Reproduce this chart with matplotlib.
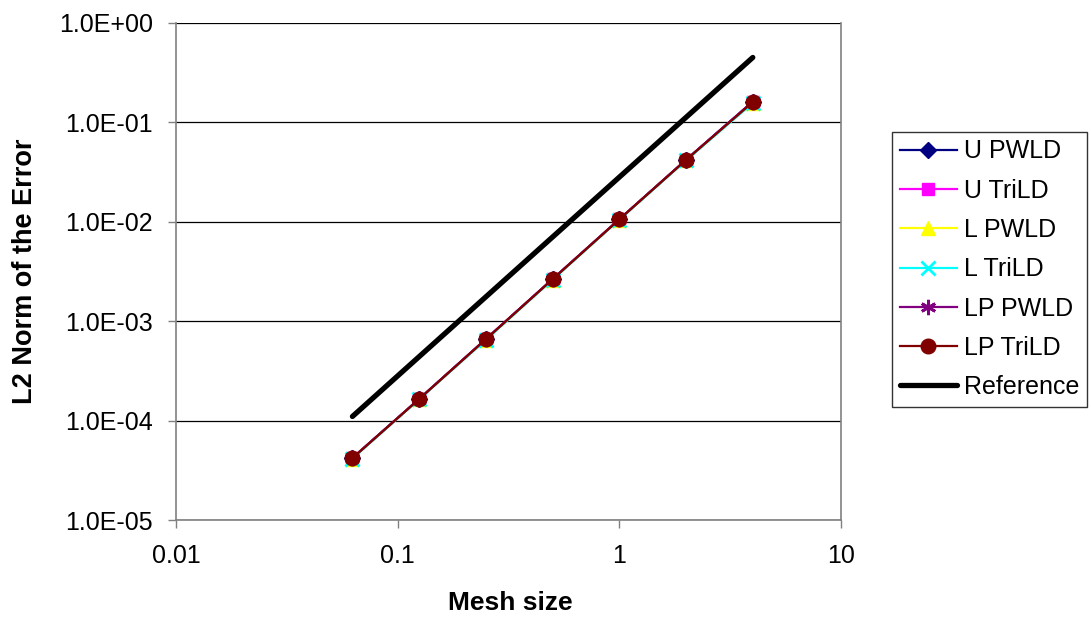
import matplotlib
matplotlib.use("Agg")
import matplotlib.pyplot as plt
from matplotlib.ticker import FixedLocator, NullLocator, FixedFormatter

plt.rcParams['font.family'] = ['Liberation Sans', 'DejaVu Sans']

mesh = [0.0625, 0.125, 0.25, 0.5, 1, 2, 4]
u_pwld = [4.2e-5, 1.65e-4, 6.6e-4, 2.65e-3, 1.06e-2, 4.2e-2, 0.162]
u_trild = [4.2e-5, 1.65e-4, 6.6e-4, 2.65e-3, 1.06e-2, 4.2e-2, 0.161]
l_pwld = [4.15e-5, 1.64e-4, 6.5e-4, 2.62e-3, 1.05e-2, 4.15e-2, 0.158]
l_trild = [4.15e-5, 1.64e-4, 6.5e-4, 2.62e-3, 1.05e-2, 4.15e-2, 0.157]
lp_pwld = [4.2e-5, 1.65e-4, 6.6e-4, 2.65e-3, 1.06e-2, 4.2e-2, 0.162]
lp_trild = [4.2e-5, 1.65e-4, 6.6e-4, 2.65e-3, 1.06e-2, 4.2e-2, 0.16]
ref_x = [0.0625, 4]
ref_y = [1.1e-4, 0.45]

series = [
    ("U PWLD", u_pwld, "#000080", "D", 8),
    ("U TriLD", u_trild, "#FF00FF", "s", 9),
    ("L PWLD", l_pwld, "#FFFF00", "^", 10),
    ("L TriLD", l_trild, "#00FFFF", "x", 10),
    ("LP PWLD", lp_pwld, "#800080", (6, 2, 0), 11),
    ("LP TriLD", lp_trild, "#800000", "o", 10.5),
]

W, H = 1091, 617
fig = plt.figure(figsize=(W / 100, H / 100), dpi=100)
x0, x1, y0, y1 = 176, 841, 23, 520
ax = fig.add_axes([x0 / W, 1 - y1 / H, (x1 - x0) / W, (y1 - y0) / H])

for name, vals, col, mk, ms in series:
    mew = 2 if mk in ("x",) or isinstance(mk, tuple) else 1
    ax.plot(mesh, vals, color=col, lw=1.6, marker=mk, markersize=ms,
            markerfacecolor=col, markeredgecolor=col, markeredgewidth=mew,
            label=name)
ax.plot(ref_x, ref_y, color="black", lw=3.8, solid_capstyle="round", label="Reference")

ax.set_xscale("log")
ax.set_yscale("log")
ax.set_xlim(0.01, 10)
ax.set_ylim(1e-5, 1)

yt = [1e-5, 1e-4, 1e-3, 1e-2, 1e-1, 1]
ax.yaxis.set_major_locator(FixedLocator(yt))
ax.yaxis.set_major_formatter(FixedFormatter(["1.0E-05", "1.0E-04", "1.0E-03", "1.0E-02", "1.0E-01", "1.0E+00"]))
ax.yaxis.set_minor_locator(NullLocator())
xt = [0.01, 0.1, 1, 10]
ax.xaxis.set_major_locator(FixedLocator(xt))
ax.xaxis.set_major_formatter(FixedFormatter(["0.01", "0.1", "1", "10"]))
ax.xaxis.set_minor_locator(NullLocator())

ax.grid(True, axis="y", color="black", lw=0.9)
ax.set_axisbelow(True)
for s in ax.spines.values():
    s.set_color("#808080")
    s.set_linewidth(1.2)
ax.spines["top"].set_visible(False)
ax.tick_params(axis="both", direction="out", length=5.5, width=1, color="#808080",
               labelsize=18)
ax.tick_params(axis="y", pad=11)
ax.tick_params(axis="x", pad=12)

ax.set_xlabel("Mesh size", fontsize=19, fontweight="bold")
ax.set_ylabel("L2 Norm of the Error", fontsize=19.5, fontweight="bold")
ax.xaxis.set_label_coords((510 - x0) / (x1 - x0), (y1 - 591) / (y1 - y0))
ax.yaxis.set_label_coords((38 - x0) / (x1 - x0), 0.5)

leg = fig.legend(loc="upper left", bbox_to_anchor=(892 / W, 1 - 132 / H),
                 fontsize=18, frameon=True, fancybox=False, edgecolor="black",
                 handlelength=2.3, handletextpad=0.3, labelspacing=0.61,
                 borderpad=0.3, borderaxespad=0, numpoints=1)
leg.get_frame().set_linewidth(1.0)

fig.savefig("out.png", dpi=100)
